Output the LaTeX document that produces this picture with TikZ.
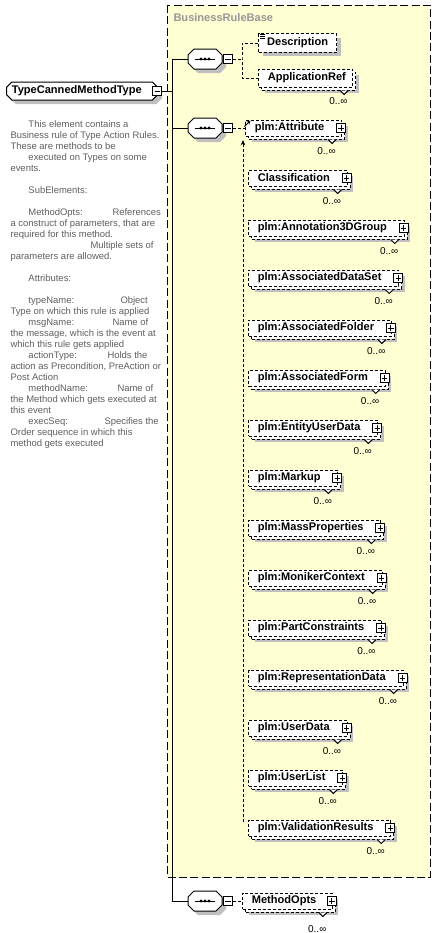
\documentclass[tikz,border=0pt]{standalone}
\usepackage{fontspec}
\usetikzlibrary{shapes.misc,shadows,arrows.meta,positioning}
\newfontfamily\xsdfont{Liberation Sans}
\definecolor{basefill}{RGB}{255,255,212}
\definecolor{baseline}{RGB}{150,150,150}
\definecolor{shade}{RGB}{192,192,192}
\definecolor{docgray}{RGB}{95,95,95}

\begin{document}
\begin{tikzpicture}[x=0.75pt,y=-0.75pt,line width=0.75pt,
  shortdash/.style={dash pattern=on 2.25pt off 1.5pt},
  conn/.style={shortdash},
  namefont/.style={font=\xsdfont\bfseries\fontsize{8.3}{10}\selectfont},
  doc/.style={font=\xsdfont\fontsize{7.1}{8}\selectfont, text=docgray, anchor=base west, inner sep=0pt},
  mult/.style={font=\xsdfont\fontsize{7.5}{9}\selectfont, anchor=base east, inner sep=0pt},
  flatshadow/.style={drop shadow={shadow xshift=#1, shadow yshift=-#1, fill=shade, opacity=1, draw=none}},
  rootbox/.style={chamfered rectangle, chamfered rectangle sep=2pt, draw, fill=white, namefont,
    inner xsep=2pt, inner ysep=0pt, minimum height=13.5pt, flatshadow=3pt},
  single/.style={rectangle, draw, shortdash, fill=white, namefont, inner sep=0pt, minimum height=14pt,
    flatshadow=3pt},
  elem/.style={rectangle, draw, shortdash, fill=white, namefont, inner sep=0pt, minimum height=12pt,
    flatshadow=4.5pt,
    copy shadow={shadow xshift=2.25pt, shadow yshift=-2.25pt, draw, shortdash, fill=white}},
  seqbox/.style={rectangle, minimum width=25.5pt, minimum height=15pt, inner sep=0pt},
  expminus/.style={draw, solid, fill=white, minimum size=6.75pt, inner sep=0pt,
    path picture={\draw ([xshift=1.4pt]path picture bounding box.west) -- ([xshift=-1.4pt]path picture bounding box.east);}},
  expplus/.style={draw, solid, fill=white, minimum size=6.75pt, inner sep=0pt,
    path picture={\draw ([xshift=1.4pt]path picture bounding box.west) -- ([xshift=-1.4pt]path picture bounding box.east);
      \draw ([yshift=-1.4pt]path picture bounding box.north) -- ([yshift=1.4pt]path picture bounding box.south);}},
  chev/.style={solid, fill=white}
]
\useasboundingbox (0,0) rectangle (436,933);

% base type area
\draw[baseline, fill=basefill, dash pattern=on 6pt off 2.5pt] (167,5) rectangle (430,877);
\node[namefont, text=baseline, anchor=west, inner sep=0pt] (basename) at (173,18) {BusinessRuleBase};

% complex type
\node[rootbox, anchor=west] (root) at (6,91) {TypeCannedMethodType\hspace*{8pt}};
\node[expminus] (rootx) at ([shift={(-1,0)}]root.east) {};
\coordinate (trunk) at (172,91);

% sequences
\node[seqbox] (seq1) at (205,59) {};
\node[seqbox] (seq2) at (205,128) {};
\node[seqbox] (seq3) at (205,901) {};
\foreach \s in {seq1,seq2,seq3}{
  \draw[fill=white, flatshadow=3pt] ([shift={(-17,-4)}]\s.center) -- ([shift={(-11,-10)}]\s.center)
    -- ([shift={(11,-10)}]\s.center) -- ([shift={(17,-4)}]\s.center) -- ([shift={(17,4)}]\s.center)
    -- ([shift={(11,10)}]\s.center) -- ([shift={(-11,10)}]\s.center) -- ([shift={(-17,4)}]\s.center) -- cycle;
  \draw ([shift={(-10,0)}]\s.center) -- ([shift={(10,0)}]\s.center);
  \foreach \d in {-4,0,4} \fill ([shift={(\d,0)}]\s.center) circle (1.15pt);
  \node[expminus] (\s-x) at ([shift={(5.5,0)}]\s.east) {};
}

\draw (rootx.east) -- (trunk);
\draw (seq1.west) -| (trunk |- seq3.west) -- (seq3.west);
\draw (seq2.west) -- (trunk |- seq2.west);

% first sequence
\node[single, anchor=west] (desc) at (258,43) {\hspace*{6.5pt}Description\hspace*{6.5pt}};
\foreach \k in {1,3,5} \draw[line width=0.6pt] ([shift={(2,\k)}]desc.north west) -- ++(5,0);
\node[elem, minimum height=13.5pt, anchor=west] (appref) at (258,78) {\hspace*{7pt}ApplicationRef\hspace*{5pt}};
\draw[chev] ([shift={(-13,3)}]appref.south east) -- ++(4,4) -- ++(4,-4);
\node[mult] (appref-m) at ([shift={(-5,16.5)}]appref.south east) {0..∞};
\coordinate (fork1) at (242,59);
\draw[conn] (seq1-x.east) -- (fork1);
\draw[conn] (desc.west) -| (fork1) |- (appref.west);

% second sequence
\foreach \nm/\txt/\x [count=\i from 0] in {attr/plm:Attribute/245, cls/Classification/248,
    ann/plm:Annotation3DGroup/248, ads/plm:AssociatedDataSet/248, afo/plm:AssociatedFolder/248,
    afm/plm:AssociatedForm/248, eud/plm:EntityUserData/248, mku/plm:Markup/248,
    mass/plm:MassProperties/248, mon/plm:MonikerContext/248, pcon/plm:PartConstraints/248,
    rep/plm:RepresentationData/248, udat/plm:UserData/248, ulist/plm:UserList/248,
    val/plm:ValidationResults/248}{
  \node[elem, anchor=west] (\nm) at (\x,128+50*\i) {\hspace*{7pt}\txt\hspace*{13pt}};
  \node[expplus] (\nm-x) at ([shift={(-1,0)}]\nm.east) {};
  \draw[chev] ([shift={(-14,3)}]\nm.south east) -- ++(4,4) -- ++(4,-4);
  \node[mult] (\nm-m) at ([shift={(-6,18)}]\nm.south east) {0..∞};
}
\draw[conn] (seq2-x.east) -- (attr.west);
\coordinate (subtop) at (243,140);
\coordinate (subbot) at (243,822);
\draw[conn, -{Stealth[length=4pt,width=3.5pt]}] (subbot) -- (subtop);
\coordinate (headfrom) at (244.5,126.5);
\coordinate (headto) at (250.5,120.5);
\draw[-{Stealth[length=3pt,width=3pt]}] (headfrom) -- (headto);

% third sequence
\node[elem, anchor=west] (mopts) at (242,901) {\hspace*{7pt}MethodOpts\hspace*{12pt}};
\node[expplus] (mopts-x) at ([shift={(-1,0)}]mopts.east) {};
\draw[chev] ([shift={(-14,3)}]mopts.south east) -- ++(4,4) -- ++(4,-4);
\node[mult] (mopts-m) at ([shift={(-6,23)}]mopts.south east) {0..∞};
\draw[conn] (seq3-x.east) -- (mopts.west);

% documentation
\foreach \k/\x/\txt in {0/28/{This element contains a}, 1/10/{Business rule of Type Action Rules.},
    2/10/{These are methods to be}, 3/28/{executed on Types on some}, 4/10/{events.},
    6/28/{SubElements:}, 8/28/{MethodOpts:}, 9/10/{a construct of parameters, that are},
    10/10/{required for this method.}, 11/90/{Multiple sets of}, 12/10/{parameters are allowed.},
    14/28/{Attributes:}, 16/28/{typeName:}, 17/10/{Type on which this rule is applied},
    18/28/{msgName:}, 19/10/{the message, which is the event at}, 20/10/{which this rule gets applied},
    21/28/{actionType:}, 22/10/{action as Precondition, PreAction or}, 23/10/{Post Action},
    24/28/{methodName:}, 25/10/{the Method which gets executed at}, 26/10/{this event},
    27/28/{execSeq:}, 28/10/{Order sequence in which this}, 29/10/{method gets executed}}
  \node[doc] (doc\k) at (\x,127.5+11*\k) {\txt};
\foreach \k/\x/\txt in {8/112/{References}, 16/120/{Object}, 18/112/{Name of},
    21/107/{Holds the}, 24/117/{Name of}, 27/104/{Specifies the}}
  \node[doc] (tab\k) at (\x,127.5+11*\k) {\txt};
\end{tikzpicture}
\end{document}
